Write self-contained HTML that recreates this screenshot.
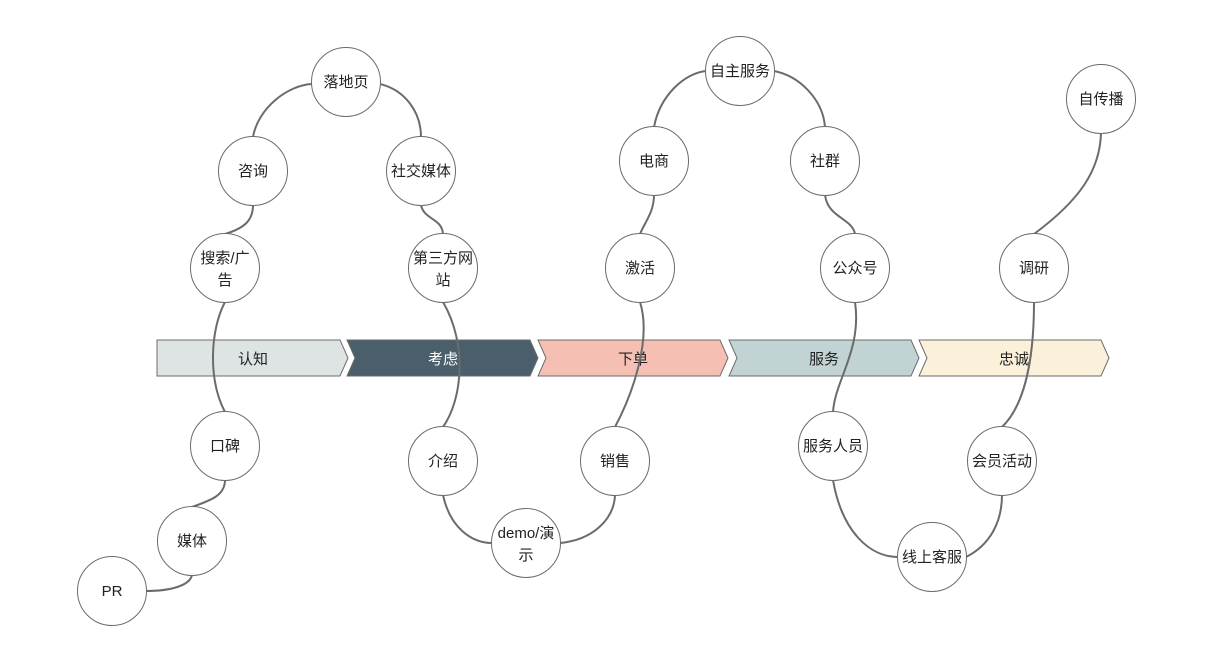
<!DOCTYPE html>
<html><head><meta charset="utf-8"><style>
html,body{margin:0;padding:0;background:#fff;}
svg text{font-family:"Liberation Sans","Noto Sans CJK SC",sans-serif;font-size:15px;fill:#222;}
</style></head><body>
<svg width="1220" height="656" viewBox="0 0 1220 656" xmlns="http://www.w3.org/2000/svg">
<g stroke="#6b6b6b" stroke-width="1">
<polygon points="157,340 340,340 348,358 340,376 157,376" fill="#dde4e3"/>
<polygon points="347,340 530,340 538,358 530,376 347,376 355,358" fill="#4a5f6b"/>
<polygon points="538,340 720,340 728,358 720,376 538,376 546,358" fill="#f5c0b3"/>
<polygon points="729,340 911,340 919,358 911,376 729,376 737,358" fill="#c2d3d4"/>
<polygon points="919,340 1101,340 1109,358 1101,376 919,376 927,358" fill="#fbf0da"/>
</g>
<g text-anchor="middle">
<text x="253" y="364">认知</text>
<text x="443" y="364" style="fill:#fff">考虑</text>
<text x="633" y="364">下单</text>
<text x="824" y="364">服务</text>
<text x="1014" y="364">忠诚</text>
</g>
<g fill="none" stroke="#6b6b6b" stroke-width="2">
<path d="M146,591 C172,591 190,585 192,575"/>
<path d="M192,507 C212,500 225,495 225,480"/>
<path d="M225,412 C208,380 210,330 225,302"/>
<path d="M225,234 C245,228 253,220 253,205"/>
<path d="M253,137 C258,108 288,85 312,84"/>
<path d="M380,84 C405,90 421,112 421,137"/>
<path d="M421,205 C424,220 442,218 443,234"/>
<path d="M443,302 C468,345 462,400 443,427"/>
<path d="M443,495 C450,528 472,543 492,543"/>
<path d="M560,543 C592,540 614,520 615,495"/>
<path d="M615,427 C632,395 652,340 640,302"/>
<path d="M640,234 C645,222 654,212 654,195"/>
<path d="M654,127 C660,95 685,73 706,71"/>
<path d="M774,71 C800,76 823,100 825,127"/>
<path d="M825,195 C828,218 852,218 855,234"/>
<path d="M855,302 C862,350 835,380 833,412"/>
<path d="M833,480 C842,532 870,557 898,557"/>
<path d="M966,557 C990,545 1002,522 1002,495"/>
<path d="M1002,427 C1030,400 1034,340 1034,302"/>
<path d="M1034,234 C1080,200 1100,170 1101,133"/>
</g>
<g stroke="#6b6b6b" stroke-width="1" fill="#fff">
<circle cx="112" cy="591" r="34.5"/><circle cx="192" cy="541" r="34.5"/><circle cx="225" cy="446" r="34.5"/>
<circle cx="225" cy="268" r="34.5"/><circle cx="253" cy="171" r="34.5"/><circle cx="346" cy="82" r="34.5"/>
<circle cx="421" cy="171" r="34.5"/><circle cx="443" cy="268" r="34.5"/><circle cx="443" cy="461" r="34.5"/>
<circle cx="526" cy="543" r="34.5"/><circle cx="615" cy="461" r="34.5"/><circle cx="640" cy="268" r="34.5"/>
<circle cx="654" cy="161" r="34.5"/><circle cx="740" cy="71" r="34.5"/><circle cx="825" cy="161" r="34.5"/>
<circle cx="855" cy="268" r="34.5"/><circle cx="833" cy="446" r="34.5"/><circle cx="932" cy="557" r="34.5"/>
<circle cx="1002" cy="461" r="34.5"/><circle cx="1034" cy="268" r="34.5"/><circle cx="1101" cy="99" r="34.5"/>
</g>
<g text-anchor="middle">
<text x="112" y="596">PR</text><text x="192" y="546">媒体</text><text x="225" y="451">口碑</text>
<text x="225" y="263">搜索/广</text><text x="225" y="285">告</text>
<text x="253" y="176">咨询</text><text x="346" y="87">落地页</text><text x="421" y="176">社交媒体</text>
<text x="443" y="263">第三方网</text><text x="443" y="285">站</text>
<text x="443" y="466">介绍</text>
<text x="526" y="538">demo/演</text><text x="526" y="560">示</text>
<text x="615" y="466">销售</text><text x="640" y="273">激活</text><text x="654" y="166">电商</text>
<text x="740" y="76">自主服务</text><text x="825" y="166">社群</text><text x="855" y="273">公众号</text>
<text x="833" y="451">服务人员</text><text x="932" y="562">线上客服</text><text x="1002" y="466">会员活动</text>
<text x="1034" y="273">调研</text><text x="1101" y="104">自传播</text>
</g>
</svg>
</body></html>
